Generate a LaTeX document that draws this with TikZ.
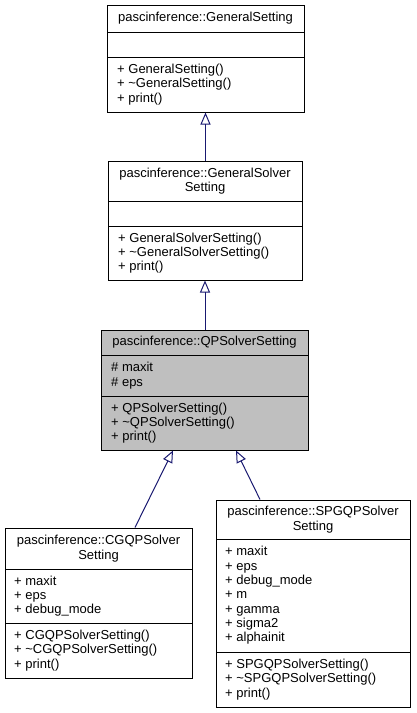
\documentclass[tikz,border=0pt]{standalone}
\usepackage{fontspec}
\setmainfont{Liberation Sans}
\usetikzlibrary{arrows.meta}
\definecolor{edgeblue}{HTML}{191970}
\definecolor{boxgray}{HTML}{BFBFBF}
\tikzset{
  classbox/.style={draw=black, line width=1pt, inner sep=0pt, rectangle},
  txt/.style={anchor=west, align=left, inner sep=0pt, font=\fontsize{13}{14.3}\selectfont},
  ttl/.style={align=center, inner sep=0pt, font=\fontsize{13}{14.3}\selectfont},
  divider/.style={draw=black, line width=1pt},
  inherit/.style={draw=edgeblue, line width=1pt, -{Triangle[open, length=12pt, width=10pt, line width=1pt]}}
}
\begin{document}
\begin{tikzpicture}[x=1pt, y=-1pt]
\useasboundingbox (0,0) rectangle (416,713);

% GeneralSetting
\node[classbox, fill=white, minimum width=197pt, minimum height=107pt] (gs) at (205.5,58.5) {};
\draw[divider] (107,32) -- (304,32);
\draw[divider] (107,57) -- (304,57);
\node[ttl] (gsT) at (205.5,18.5) {pascinference::GeneralSetting};
\node[txt] (gsM) at (117,84.5) {+ GeneralSetting()\\+ \textasciitilde GeneralSetting()\\+ print()};

% GeneralSolverSetting
\node[classbox, fill=white, minimum width=194pt, minimum height=119pt] (gss) at (205,220.5) {};
\draw[divider] (108,201) -- (302,201);
\draw[divider] (108,226) -- (302,226);
\node[ttl] (gssT) at (205,181) {pascinference::GeneralSolver\\Setting};
\node[txt] (gssM) at (118,253) {+ GeneralSolverSetting()\\+ \textasciitilde GeneralSolverSetting()\\+ print()};

% QPSolverSetting
\node[classbox, fill=boxgray, minimum width=207pt, minimum height=120pt] (qps) at (204.5,390) {};
\draw[divider] (101,355) -- (308,355);
\draw[divider] (101,396) -- (308,396);
\node[ttl] (qpsT) at (204.5,342.5) {pascinference::QPSolverSetting};
\node[txt] (qpsA) at (111,375.5) {\# maxit\\\# eps};
\node[txt] (qpsM) at (111,423) {+ QPSolverSetting()\\+ \textasciitilde QPSolverSetting()\\+ print()};

% CGQPSolverSetting
\node[classbox, fill=white, minimum width=187pt, minimum height=150pt] (cg) at (98.5,603) {};
\draw[divider] (5,569) -- (192,569);
\draw[divider] (5,623) -- (192,623);
\node[ttl] (cgT) at (98.5,548.5) {pascinference::CGQPSolver\\Setting};
\node[txt] (cgA) at (14,596) {+ maxit\\+ eps\\+ debug\_mode};
\node[txt] (cgM) at (14,650.5) {+ CGQPSolverSetting()\\+ \textasciitilde CGQPSolverSetting()\\+ print()};

% SPGQPSolverSetting
\node[classbox, fill=white, minimum width=194pt, minimum height=207pt] (spg) at (313,603.5) {};
\draw[divider] (216,539) -- (410,539);
\draw[divider] (216,652) -- (410,652);
\node[ttl] (spgT) at (313,519.5) {pascinference::SPGQPSolver\\Setting};
\node[txt] (spgA) at (225,595.5) {+ maxit\\+ eps\\+ debug\_mode\\+ m\\+ gamma\\+ sigma2\\+ alphainit};
\node[txt] (spgM) at (225,679.5) {+ SPGQPSolverSetting()\\+ \textasciitilde SPGQPSolverSetting()\\+ print()};

% inheritance edges
\draw[inherit] (gs.south |- gss.north) -- (gs.south);
\draw[inherit] (gss.south |- qps.north) -- (gss.south);
\coordinate (cgS) at ([xshift=36.5pt]cg.north);
\coordinate (cgE) at ([xshift=-31.5pt]qps.south);
\coordinate (spgS) at ([xshift=-53pt]spg.north);
\coordinate (spgE) at ([xshift=31.5pt]qps.south);
\draw[inherit] (cgS) -- (cgE);
\draw[inherit] (spgS) -- (spgE);
\end{tikzpicture}
\end{document}
